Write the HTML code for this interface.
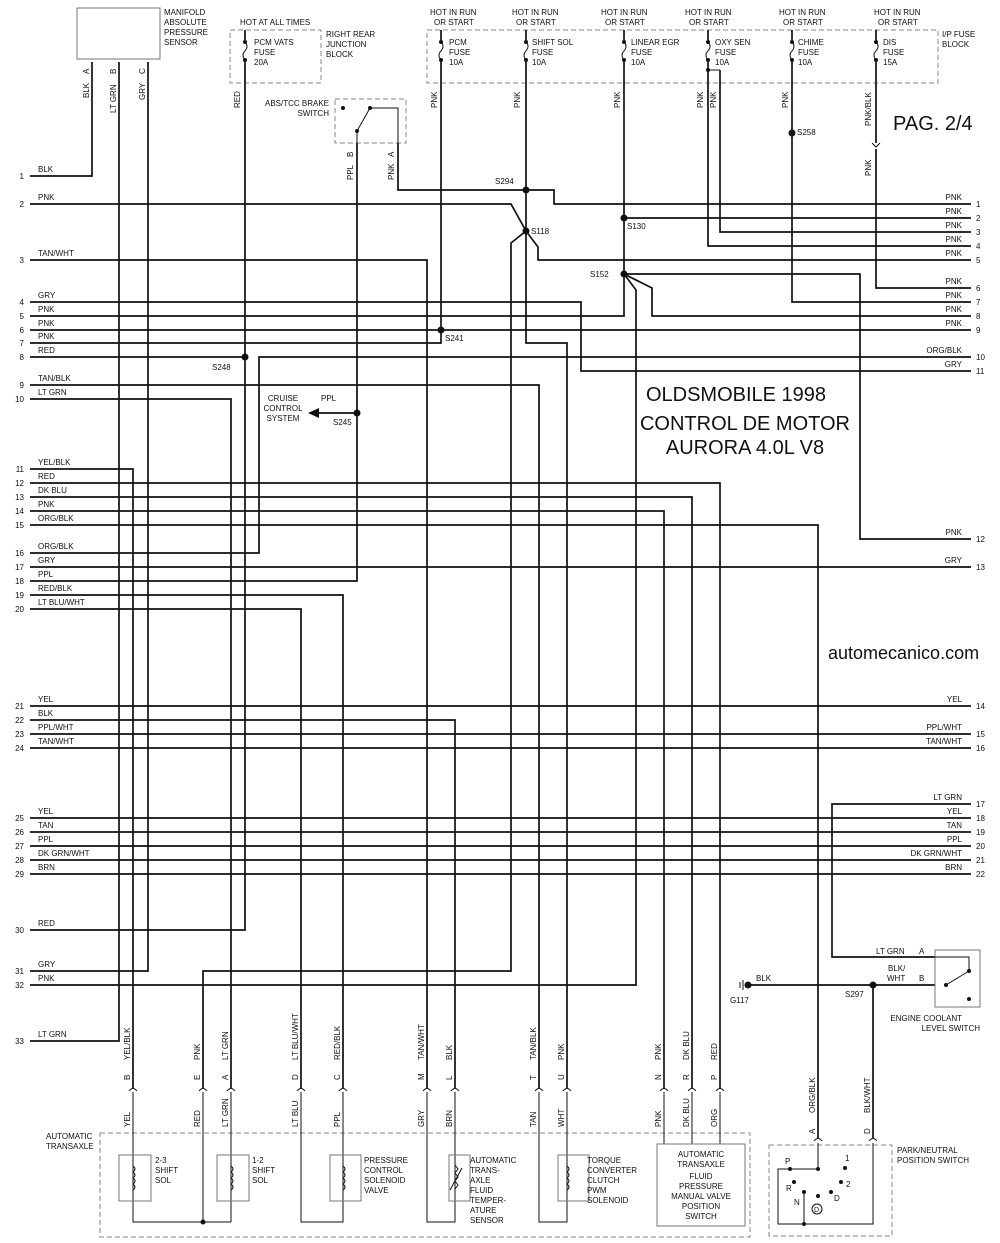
<!DOCTYPE html>
<html><head><meta charset="utf-8"><style>
html,body{margin:0;padding:0;background:#fff;}
svg{display:block;}
text{font-family:"Liberation Sans",sans-serif;fill:#111;}
.s{font-size:8px;}
.w{fill:none;stroke:#111;stroke-width:1.7;}
.t{fill:none;stroke:#111;stroke-width:1;}
.d{fill:none;stroke:#888;stroke-width:1;stroke-dasharray:5,3;}
.g{fill:none;stroke:#777;stroke-width:1;}
</style></head><body>
<svg width="1000" height="1243" viewBox="0 0 1000 1243" xmlns="http://www.w3.org/2000/svg">
<!-- MAP sensor -->
<rect x="77" y="8" width="83" height="51" class="g"/>
<text class="s" x="164" y="15">MANIFOLD</text><text class="s" x="164" y="25">ABSOLUTE</text><text class="s" x="164" y="35">PRESSURE</text><text class="s" x="164" y="45">SENSOR</text>
<!-- PCM VATS -->
<text class="s" x="240" y="25">HOT AT ALL TIMES</text>
<rect x="230" y="30" width="91" height="53" class="d"/>
<text class="s" x="254" y="45">PCM VATS</text><text class="s" x="254" y="55">FUSE</text><text class="s" x="254" y="65">20A</text>
<text class="s" x="326" y="37">RIGHT REAR</text><text class="s" x="326" y="47">JUNCTION</text><text class="s" x="326" y="57">BLOCK</text>
<!-- brake switch -->
<rect x="335" y="99" width="71" height="44" class="d"/>
<text class="s" x="329" y="106" text-anchor="end">ABS/TCC BRAKE</text><text class="s" x="329" y="116" text-anchor="end">SWITCH</text>
<circle cx="343" cy="108" r="2" fill="#111"/><circle cx="370" cy="108" r="2" fill="#111"/><circle cx="357" cy="131" r="2" fill="#111"/>
<path class="t" d="M357 131 L370 108 H398 V143"/>
<path class="t" d="M357 131 V143"/>
<!-- fuse block -->
<rect x="427" y="30" width="511" height="53" class="d"/>
<text class="s" x="942" y="37">I/P FUSE</text><text class="s" x="942" y="47">BLOCK</text>
<g class="s">
<text x="430" y="15">HOT IN RUN</text><text x="434" y="25">OR START</text>
<text x="512" y="15">HOT IN RUN</text><text x="516" y="25">OR START</text>
<text x="601" y="15">HOT IN RUN</text><text x="605" y="25">OR START</text>
<text x="685" y="15">HOT IN RUN</text><text x="689" y="25">OR START</text>
<text x="779" y="15">HOT IN RUN</text><text x="783" y="25">OR START</text>
<text x="874" y="15">HOT IN RUN</text><text x="878" y="25">OR START</text>
<text x="449" y="45">PCM</text><text x="449" y="55">FUSE</text><text x="449" y="65">10A</text>
<text x="532" y="45">SHIFT SOL</text><text x="532" y="55">FUSE</text><text x="532" y="65">10A</text>
<text x="631" y="45">LINEAR EGR</text><text x="631" y="55">FUSE</text><text x="631" y="65">10A</text>
<text x="715" y="45">OXY SEN</text><text x="715" y="55">FUSE</text><text x="715" y="65">10A</text>
<text x="798" y="45">CHIME</text><text x="798" y="55">FUSE</text><text x="798" y="65">10A</text>
<text x="883" y="45">DIS</text><text x="883" y="55">FUSE</text><text x="883" y="65">15A</text>
</g>
<!-- fuses -->
<g>
<path class="w" d="M245 30 V40 M245 62 V930 H30"/>
<path class="w" d="M441 30 V40 M441 62 V330"/>
<path class="w" d="M526 30 V40 M526 62 V343 H567 V1088"/>
<path class="w" d="M624 30 V40 M624 62 V274"/>
<path class="w" d="M708 30 V40 M708 62 V246 H971"/>
<path class="w" d="M792 30 V40 M792 62 V302 H971"/>
<path class="w" d="M876 30 V40 M876 62 V143 M876 149 V288 H971"/>
<path class="t" d="M708 70 H720"/><path class="w" d="M720 70 V232 H971"/>
</g>
<g class="t">
<path d="M245 42 q4 4 0 9 q-4 4 0 9"/><path d="M441 42 q4 4 0 9 q-4 4 0 9"/><path d="M526 42 q4 4 0 9 q-4 4 0 9"/>
<path d="M624 42 q4 4 0 9 q-4 4 0 9"/><path d="M708 42 q4 4 0 9 q-4 4 0 9"/><path d="M792 42 q4 4 0 9 q-4 4 0 9"/><path d="M876 42 q4 4 0 9 q-4 4 0 9"/>
<path d="M872 143 l4 4 l4 -4"/>
</g>
<g fill="#111">
<circle cx="245" cy="42" r="2"/><circle cx="245" cy="60" r="2"/><circle cx="441" cy="42" r="2"/><circle cx="441" cy="60" r="2"/>
<circle cx="526" cy="42" r="2"/><circle cx="526" cy="60" r="2"/><circle cx="624" cy="42" r="2"/><circle cx="624" cy="60" r="2"/>
<circle cx="708" cy="42" r="2"/><circle cx="708" cy="60" r="2"/><circle cx="708" cy="70" r="2"/><circle cx="792" cy="42" r="2"/><circle cx="792" cy="60" r="2"/>
<circle cx="876" cy="42" r="2"/><circle cx="876" cy="60" r="2"/>
</g>
<!-- MAP wires -->
<path class="w" d="M92 62 V176 H30"/>
<path class="w" d="M119 62 V1041 H30"/>
<path class="w" d="M148 62 V971 H30"/>
<!-- left rows -->
<path class="w" d="M30 204 H511 L526 231"/>
<path class="w" d="M30 260 H427 V1088"/>
<path class="w" d="M30 302 H581 V371 H971"/>
<path class="w" d="M30 316 H624 V274"/>
<path class="w" d="M30 330 H971"/>
<path class="w" d="M30 343 H441 V330"/>
<path class="w" d="M30 357 H245"/>
<path class="w" d="M30 385 H539 V1088"/>
<path class="w" d="M30 399 H231 V1088"/>
<path class="w" d="M30 469 H133 V1088"/>
<path class="w" d="M30 483 H720 V1088"/>
<path class="w" d="M30 497 H692 V1088"/>
<path class="w" d="M30 511 H664 V1088"/>
<path class="w" d="M30 525 H818 V1138"/>
<path class="w" d="M30 553 H259 V357 H971"/>
<path class="w" d="M30 567 H971"/>
<path class="w" d="M30 581 H357 V143"/>
<path class="w" d="M30 595 H343 V1088"/>
<path class="w" d="M30 609 H301 V1088"/>
<path class="w" d="M30 706 H971"/>
<path class="w" d="M30 720 H455 V1088"/>
<path class="w" d="M30 734 H971 M30 748 H971 M30 818 H971 M30 832 H971 M30 846 H971 M30 860 H971 M30 874 H971"/>
<path class="w" d="M30 985 H636 V290 L624 274"/>
<!-- splices -->
<path class="w" d="M398 143 V190 H526 M526 190 H554 V204 H971"/>
<path class="w" d="M526 231 L511 243 V971 H203 V1088"/>
<path class="w" d="M526 231 L538 247 V260 H971"/>
<path class="w" d="M624 218 H971"/>
<path class="w" d="M624 274 H860 V539 H971"/>
<path class="w" d="M624 274 L652 288 V316 H971"/>
<path class="w" d="M971 804 H832 V957 H935"/>
<path class="w" d="M750 985 H935 M873 985 V1138"/>
<path class="w" d="M357 413 H318"/><path d="M308 413 L319 408 L319 418 Z" fill="#111"/>
<g fill="#111">
<circle cx="245" cy="357" r="3.5"/><circle cx="441" cy="330" r="3.5"/><circle cx="357" cy="413" r="3.5"/>
<circle cx="526" cy="190" r="3.5"/><circle cx="526" cy="231" r="3.5"/><circle cx="624" cy="218" r="3.5"/><circle cx="624" cy="274" r="3.5"/>
<circle cx="792" cy="133" r="3.5"/><circle cx="873" cy="985" r="3.5"/><circle cx="748" cy="985" r="3.5"/>
</g>
<path class="t" d="M743 980 V990 M740 982 V988"/>
<g class="s">
<text x="445" y="341">S241</text><text x="212" y="370">S248</text><text x="333" y="425">S245</text>
<text x="495" y="184">S294</text><text x="531" y="234">S118</text><text x="627" y="229">S130</text><text x="590" y="277">S152</text>
<text x="797" y="135">S258</text><text x="845" y="997">S297</text><text x="730" y="1003">G117</text>
<text x="321" y="401">PPL</text>
<text x="283" y="401" text-anchor="middle">CRUISE</text><text x="283" y="411" text-anchor="middle">CONTROL</text><text x="283" y="421" text-anchor="middle">SYSTEM</text>
<text x="756" y="981">BLK</text>
<text x="876" y="954">LT GRN</text><text x="919" y="954">A</text>
<text x="888" y="971">BLK/</text><text x="887" y="981">WHT</text><text x="919" y="981">B</text>
<text x="962" y="1021" text-anchor="end">ENGINE COOLANT</text><text x="980" y="1031" text-anchor="end">LEVEL SWITCH</text>
</g>
<!-- ECL switch -->
<rect x="935" y="950" width="45" height="57" class="g"/>
<path class="t" d="M935 957 H969 V971 M946 985 L969 971"/>
<g fill="#111"><circle cx="969" cy="971" r="2"/><circle cx="946" cy="985" r="2"/><circle cx="969" cy="999" r="2"/></g>
<!-- left labels -->
<g class="s">
<text x="24" y="179" text-anchor="end">1</text><text x="38" y="172">BLK</text>
<text x="24" y="207" text-anchor="end">2</text><text x="38" y="200">PNK</text>
<text x="24" y="263" text-anchor="end">3</text><text x="38" y="256">TAN/WHT</text>
<text x="24" y="305" text-anchor="end">4</text><text x="38" y="298">GRY</text>
<text x="24" y="319" text-anchor="end">5</text><text x="38" y="312">PNK</text>
<text x="24" y="333" text-anchor="end">6</text><text x="38" y="326">PNK</text>
<text x="24" y="346" text-anchor="end">7</text><text x="38" y="339">PNK</text>
<text x="24" y="360" text-anchor="end">8</text><text x="38" y="353">RED</text>
<text x="24" y="388" text-anchor="end">9</text><text x="38" y="381">TAN/BLK</text>
<text x="24" y="402" text-anchor="end">10</text><text x="38" y="395">LT GRN</text>
<text x="24" y="472" text-anchor="end">11</text><text x="38" y="465">YEL/BLK</text>
<text x="24" y="486" text-anchor="end">12</text><text x="38" y="479">RED</text>
<text x="24" y="500" text-anchor="end">13</text><text x="38" y="493">DK BLU</text>
<text x="24" y="514" text-anchor="end">14</text><text x="38" y="507">PNK</text>
<text x="24" y="528" text-anchor="end">15</text><text x="38" y="521">ORG/BLK</text>
<text x="24" y="556" text-anchor="end">16</text><text x="38" y="549">ORG/BLK</text>
<text x="24" y="570" text-anchor="end">17</text><text x="38" y="563">GRY</text>
<text x="24" y="584" text-anchor="end">18</text><text x="38" y="577">PPL</text>
<text x="24" y="598" text-anchor="end">19</text><text x="38" y="591">RED/BLK</text>
<text x="24" y="612" text-anchor="end">20</text><text x="38" y="605">LT BLU/WHT</text>
<text x="24" y="709" text-anchor="end">21</text><text x="38" y="702">YEL</text>
<text x="24" y="723" text-anchor="end">22</text><text x="38" y="716">BLK</text>
<text x="24" y="737" text-anchor="end">23</text><text x="38" y="730">PPL/WHT</text>
<text x="24" y="751" text-anchor="end">24</text><text x="38" y="744">TAN/WHT</text>
<text x="24" y="821" text-anchor="end">25</text><text x="38" y="814">YEL</text>
<text x="24" y="835" text-anchor="end">26</text><text x="38" y="828">TAN</text>
<text x="24" y="849" text-anchor="end">27</text><text x="38" y="842">PPL</text>
<text x="24" y="863" text-anchor="end">28</text><text x="38" y="856">DK GRN/WHT</text>
<text x="24" y="877" text-anchor="end">29</text><text x="38" y="870">BRN</text>
<text x="24" y="933" text-anchor="end">30</text><text x="38" y="926">RED</text>
<text x="24" y="974" text-anchor="end">31</text><text x="38" y="967">GRY</text>
<text x="24" y="988" text-anchor="end">32</text><text x="38" y="981">PNK</text>
<text x="24" y="1044" text-anchor="end">33</text><text x="38" y="1037">LT GRN</text>
</g>
<!-- right labels -->
<g class="s">
<text x="976" y="207">1</text><text x="962" y="200" text-anchor="end">PNK</text>
<text x="976" y="221">2</text><text x="962" y="214" text-anchor="end">PNK</text>
<text x="976" y="235">3</text><text x="962" y="228" text-anchor="end">PNK</text>
<text x="976" y="249">4</text><text x="962" y="242" text-anchor="end">PNK</text>
<text x="976" y="263">5</text><text x="962" y="256" text-anchor="end">PNK</text>
<text x="976" y="291">6</text><text x="962" y="284" text-anchor="end">PNK</text>
<text x="976" y="305">7</text><text x="962" y="298" text-anchor="end">PNK</text>
<text x="976" y="319">8</text><text x="962" y="312" text-anchor="end">PNK</text>
<text x="976" y="333">9</text><text x="962" y="326" text-anchor="end">PNK</text>
<text x="976" y="360">10</text><text x="962" y="353" text-anchor="end">ORG/BLK</text>
<text x="976" y="374">11</text><text x="962" y="367" text-anchor="end">GRY</text>
<text x="976" y="542">12</text><text x="962" y="535" text-anchor="end">PNK</text>
<text x="976" y="570">13</text><text x="962" y="563" text-anchor="end">GRY</text>
<text x="976" y="709">14</text><text x="962" y="702" text-anchor="end">YEL</text>
<text x="976" y="737">15</text><text x="962" y="730" text-anchor="end">PPL/WHT</text>
<text x="976" y="751">16</text><text x="962" y="744" text-anchor="end">TAN/WHT</text>
<text x="976" y="807">17</text><text x="962" y="800" text-anchor="end">LT GRN</text>
<text x="976" y="821">18</text><text x="962" y="814" text-anchor="end">YEL</text>
<text x="976" y="835">19</text><text x="962" y="828" text-anchor="end">TAN</text>
<text x="976" y="849">20</text><text x="962" y="842" text-anchor="end">PPL</text>
<text x="976" y="863">21</text><text x="962" y="856" text-anchor="end">DK GRN/WHT</text>
<text x="976" y="877">22</text><text x="962" y="870" text-anchor="end">BRN</text>
</g>
<!-- rotated top labels -->
<g class="s">
<text transform="translate(89,98) rotate(-90)">BLK</text><text transform="translate(89,74) rotate(-90)">A</text>
<text transform="translate(116,113) rotate(-90)">LT GRN</text><text transform="translate(116,74) rotate(-90)">B</text>
<text transform="translate(145,100) rotate(-90)">GRY</text><text transform="translate(145,74) rotate(-90)">C</text>
<text transform="translate(240,108) rotate(-90)">RED</text>
<text transform="translate(353,180) rotate(-90)">PPL</text><text transform="translate(353,157) rotate(-90)">B</text>
<text transform="translate(394,180) rotate(-90)">PNK</text><text transform="translate(394,157) rotate(-90)">A</text>
<text transform="translate(437,108) rotate(-90)">PNK</text>
<text transform="translate(520,108) rotate(-90)">PNK</text>
<text transform="translate(620,108) rotate(-90)">PNK</text>
<text transform="translate(703,108) rotate(-90)">PNK</text>
<text transform="translate(716,108) rotate(-90)">PNK</text>
<text transform="translate(788,108) rotate(-90)">PNK</text>
<text transform="translate(871,126) rotate(-90)">PNK/BLK</text>
<text transform="translate(871,176) rotate(-90)">PNK</text>
</g>
<!-- titles -->
<text x="893" y="130" font-size="20">PAG. 2/4</text>
<text x="736" y="401" font-size="20" text-anchor="middle">OLDSMOBILE 1998</text>
<text x="745" y="430" font-size="20" text-anchor="middle">CONTROL DE MOTOR</text>
<text x="745" y="454" font-size="20" text-anchor="middle">AURORA 4.0L V8</text>
<text x="828" y="659" font-size="18">automecanico.com</text>
<!-- bottom connectors -->
<g class="t">
<path d="M129 1091 q4 -5 8 0 M199 1091 q4 -5 8 0 M227 1091 q4 -5 8 0 M297 1091 q4 -5 8 0 M339 1091 q4 -5 8 0 M423 1091 q4 -5 8 0 M451 1091 q4 -5 8 0 M535 1091 q4 -5 8 0 M563 1091 q4 -5 8 0 M660 1091 q4 -5 8 0 M688 1091 q4 -5 8 0 M716 1091 q4 -5 8 0 M814 1141 q4 -5 8 0 M869 1141 q4 -5 8 0"/>
</g>
<g class="s">
<text transform="translate(130,1060) rotate(-90)">YEL/BLK</text><text transform="translate(130,1080) rotate(-90)">B</text><text transform="translate(130,1127) rotate(-90)">YEL</text>
<text transform="translate(200,1060) rotate(-90)">PNK</text><text transform="translate(200,1080) rotate(-90)">E</text><text transform="translate(200,1127) rotate(-90)">RED</text>
<text transform="translate(228,1060) rotate(-90)">LT GRN</text><text transform="translate(228,1080) rotate(-90)">A</text><text transform="translate(228,1127) rotate(-90)">LT GRN</text>
<text transform="translate(298,1060) rotate(-90)">LT BLU/WHT</text><text transform="translate(298,1080) rotate(-90)">D</text><text transform="translate(298,1127) rotate(-90)">LT BLU</text>
<text transform="translate(340,1060) rotate(-90)">RED/BLK</text><text transform="translate(340,1080) rotate(-90)">C</text><text transform="translate(340,1127) rotate(-90)">PPL</text>
<text transform="translate(424,1060) rotate(-90)">TAN/WHT</text><text transform="translate(424,1080) rotate(-90)">M</text><text transform="translate(424,1127) rotate(-90)">GRY</text>
<text transform="translate(452,1060) rotate(-90)">BLK</text><text transform="translate(452,1080) rotate(-90)">L</text><text transform="translate(452,1127) rotate(-90)">BRN</text>
<text transform="translate(536,1060) rotate(-90)">TAN/BLK</text><text transform="translate(536,1080) rotate(-90)">T</text><text transform="translate(536,1127) rotate(-90)">TAN</text>
<text transform="translate(564,1060) rotate(-90)">PNK</text><text transform="translate(564,1080) rotate(-90)">U</text><text transform="translate(564,1127) rotate(-90)">WHT</text>
<text transform="translate(661,1060) rotate(-90)">PNK</text><text transform="translate(661,1080) rotate(-90)">N</text><text transform="translate(661,1127) rotate(-90)">PNK</text>
<text transform="translate(689,1060) rotate(-90)">DK BLU</text><text transform="translate(689,1080) rotate(-90)">R</text><text transform="translate(689,1127) rotate(-90)">DK BLU</text>
<text transform="translate(717,1060) rotate(-90)">RED</text><text transform="translate(717,1080) rotate(-90)">P</text><text transform="translate(717,1127) rotate(-90)">ORG</text>
<text transform="translate(815,1113) rotate(-90)">ORG/BLK</text><text transform="translate(815,1134) rotate(-90)">A</text>
<text transform="translate(870,1113) rotate(-90)">BLK/WHT</text><text transform="translate(870,1134) rotate(-90)">D</text>
</g>
<!-- transaxle box -->
<rect x="100" y="1133" width="650" height="104" class="d"/>
<text class="s" x="46" y="1139">AUTOMATIC</text><text class="s" x="46" y="1149">TRANSAXLE</text>
<g class="t">
<path d="M133 1092 V1222 H231 M203 1092 V1222 M231 1092 V1222"/>
<path d="M301 1092 V1222 H343 V1092"/>
<path d="M427 1092 V1222 H455 V1092"/>
<path d="M539 1092 V1222 H567 V1092"/>
<path d="M664 1092 V1144 M692 1092 V1144 M720 1092 V1144"/>
</g>
<circle cx="203" cy="1222" r="2.5" fill="#111"/>
<g class="g">
<rect x="119" y="1155" width="32" height="46"/><rect x="217" y="1155" width="32" height="46"/>
<rect x="330" y="1155" width="31" height="46"/><rect x="449" y="1155" width="21" height="46"/>
<rect x="558" y="1155" width="31" height="46"/><rect x="657" y="1144" width="88" height="82"/>
</g>
<g class="t">
<path d="M133 1166 q4 3 0 6 q4 3 0 6 q4 3 0 6 q4 3 0 6"/><path d="M231 1166 q4 3 0 6 q4 3 0 6 q4 3 0 6 q4 3 0 6"/>
<path d="M343 1166 q4 3 0 6 q4 3 0 6 q4 3 0 6 q4 3 0 6"/><path d="M455 1165 l3 4 l-3 4 l3 4 l-3 4 l3 4 l-3 4 M450 1190 L462 1168"/>
<path d="M567 1166 q4 3 0 6 q4 3 0 6 q4 3 0 6 q4 3 0 6"/>
</g>
<g class="s">
<text x="155" y="1163">2-3</text><text x="155" y="1173">SHIFT</text><text x="155" y="1183">SOL</text>
<text x="252" y="1163">1-2</text><text x="252" y="1173">SHIFT</text><text x="252" y="1183">SOL</text>
<text x="364" y="1163">PRESSURE</text><text x="364" y="1173">CONTROL</text><text x="364" y="1183">SOLENOID</text><text x="364" y="1193">VALVE</text>
<text x="470" y="1163">AUTOMATIC</text><text x="470" y="1173">TRANS-</text><text x="470" y="1183">AXLE</text><text x="470" y="1193">FLUID</text><text x="470" y="1203">TEMPER-</text><text x="470" y="1213">ATURE</text><text x="470" y="1223">SENSOR</text>
<text x="587" y="1163">TORQUE</text><text x="587" y="1173">CONVERTER</text><text x="587" y="1183">CLUTCH</text><text x="587" y="1193">PWM</text><text x="587" y="1203">SOLENOID</text>
<g text-anchor="middle"><text x="701" y="1157">AUTOMATIC</text><text x="701" y="1167">TRANSAXLE</text><text x="701" y="1179">FLUID</text><text x="701" y="1189">PRESSURE</text><text x="701" y="1199">MANUAL VALVE</text><text x="701" y="1209">POSITION</text><text x="701" y="1219">SWITCH</text></g>
<text x="897" y="1153">PARK/NEUTRAL</text><text x="897" y="1163">POSITION SWITCH</text>
</g>
<!-- PNP switch -->
<rect x="769" y="1145" width="123" height="91" class="d"/>
<path class="t" d="M818 1143 V1169 H778 V1224 H873 V1143 M804 1192 V1224"/>
<g fill="#111"><circle cx="790" cy="1169" r="2"/><circle cx="818" cy="1169" r="2"/><circle cx="845" cy="1168" r="2"/><circle cx="794" cy="1182" r="2"/><circle cx="841" cy="1182" r="2"/><circle cx="804" cy="1192" r="2"/><circle cx="818" cy="1196" r="2"/><circle cx="831" cy="1192" r="2"/><circle cx="804" cy="1224" r="2"/></g>
<circle cx="817" cy="1209" r="5" class="t"/>
<g class="s"><text x="785" y="1164">P</text><text x="845" y="1161">1</text><text x="786" y="1191">R</text><text x="846" y="1187">2</text><text x="794" y="1205">N</text><text x="834" y="1201">D</text><text x="814" y="1212" font-size="7">D</text></g>
</svg>
</body></html>
